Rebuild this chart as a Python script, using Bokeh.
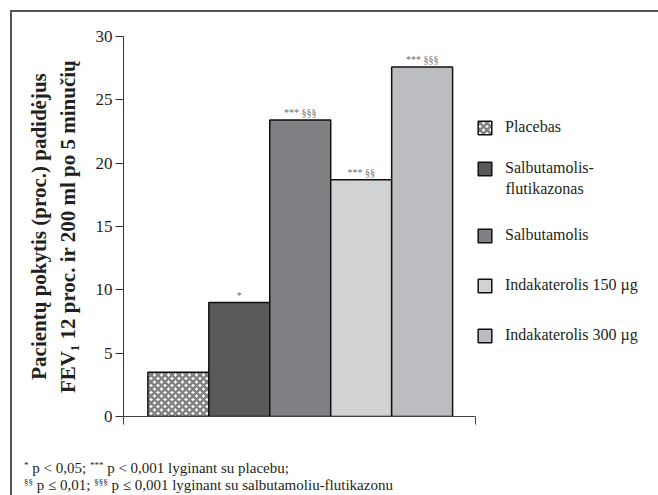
from bokeh.plotting import figure
from bokeh.models import (ColumnDataSource, Legend, LegendItem, FixedTicker,
                          LinearAxis, Range1d, Div, Label)
from bokeh.layouts import column
from bokeh.core.properties import value
from bokeh.embed import file_html
from bokeh.resources import INLINE

categories = ["Placebas", "Salbutamolis-\nflutikazonas", "Salbutamolis",
              "Indakaterolis 150 µg", "Indakaterolis 300 µg"]
values = [3.5, 9.0, 23.4, 18.7, 27.6]
signif = ["", "*", "*** §§§", "*** §§", "*** §§§"]
colors = ["#ffffff", "#58595b", "#808184", "#d1d2d4", "#bcbdc0"]
y_ticks = [0, 5, 10, 15, 20, 25, 30]

FONT = "Liberation Serif"
TXT = "#231f20"

AX0, AX1 = -0.9, 4.87           # extent of the drawn x-axis
p = figure(width=658, height=445, output_backend="svg", toolbar_location=None,
           x_range=Range1d(AX0, 7.78), y_range=Range1d(0, 30),
           min_border_left=123, min_border_right=6, min_border_top=36,
           min_border_bottom=29, x_axis_location=None)
p.outline_line_color = None
p.grid.visible = False
p.background_fill_color = None
p.border_fill_color = None

xs = list(range(len(values)))
renderers = []
for i, (v, c) in enumerate(zip(values, colors)):
    src = ColumnDataSource(dict(x=[xs[i]], top=[v]))
    kw = {}
    if i == 0:
        kw = dict(hatch_pattern="x", hatch_color="#808080", hatch_scale=7,
                  hatch_weight=2.5)
    r = p.vbar(x="x", top="top", width=1.0, bottom=0, source=src,
               fill_color=c, line_color="#111111", line_width=1.5, **kw)
    renderers.append(r)

# significance marks
ann = ColumnDataSource(dict(x=xs, y=values, t=signif))
p.text(x="x", y="y", text="t", source=ann, text_font=value(FONT),
       text_font_size="10px", text_color="#6d6e71", text_align="center",
       text_baseline="bottom", y_offset=-2)

# y axis
p.yaxis.ticker = FixedTicker(ticks=y_ticks)
p.yaxis.major_label_text_font = FONT
p.yaxis.major_label_text_font_size = "17px"
p.yaxis.major_label_text_color = TXT
p.yaxis.major_tick_out = 8
p.yaxis.major_tick_in = 0
p.yaxis.minor_tick_line_color = None
p.yaxis.major_label_standoff = 3
p.yaxis.axis_line_color = "#333333"
p.yaxis.major_tick_line_color = "#333333"
p.yaxis.axis_label = "Pacientų pokytis (proc.) padidėjus\nFEV₁ 12 proc. ir 200 ml po 5 minučių"
p.yaxis.axis_label_text_font = FONT
p.yaxis.axis_label_text_font_style = "bold"
p.yaxis.axis_label_text_font_size = "21px"
p.yaxis.axis_label_text_color = TXT
p.yaxis.axis_label_standoff = 13

# x axis (baseline with end ticks)
xax = LinearAxis(ticker=FixedTicker(ticks=[AX0, AX1]), bounds=(AX0, AX1))
xax.major_label_text_font_size = "0px"
xax.major_label_text_color = None
xax.major_tick_out = 8
xax.major_tick_in = 0
xax.minor_tick_line_color = None
xax.axis_line_color = "#444444"
xax.major_tick_line_color = "#444444"
p.add_layout(xax, "below")

leg_style = dict(padding=0, margin=0, glyph_width=17, glyph_height=17,
                 label_standoff=12, label_text_font=FONT,
                 label_text_font_size="16px", label_text_color=TXT,
                 border_line_color=None, background_fill_alpha=0)
first, second = categories[1].split("\n")
leg_a = Legend(items=[LegendItem(label=categories[0], renderers=[renderers[0]]),
                      LegendItem(label=first, renderers=[renderers[1]])],
               location=(353, 239), spacing=23, **leg_style)
leg_c = Legend(items=[LegendItem(label=categories[k], renderers=[renderers[k]])
                      for k in (2, 3, 4)],
               location=(353, 72), spacing=32, **leg_style)
p.add_layout(leg_a, "center")
p.add_layout(leg_c, "center")
p.add_layout(Label(x=382, y=228, x_units="screen", y_units="screen",
                   text=second, text_font=FONT, text_font_size="16px",
                   text_color=TXT, text_baseline="middle"))

sup = '<span style="font-size:9px;vertical-align:5px;line-height:0">'
note = Div(
    text=(f'{sup}*</span> p &lt; 0,05; {sup}***</span> p &lt; 0,001 lyginant su placebu;<br>'
          f'{sup}§§</span> p ≤ 0,01; {sup}§§§</span> p ≤ 0,001 lyginant su salbutamoliu-flutikazonu'),
    width=658, height=50,
    styles={"font-family": FONT, "font-size": "15px", "line-height": "17px",
            "color": TXT, "padding-left": "19px", "padding-top": "10px",
            "box-sizing": "border-box"})

layout = column(p, note, spacing=0)
layout.styles = {
    "background": ("linear-gradient(#555,#555) 10px 10px / 2px 100% no-repeat, "
                   "linear-gradient(#555,#555) 10px 10px / 100% 2px no-repeat, white")}

open("out.html", "w").write(file_html(layout, INLINE))
